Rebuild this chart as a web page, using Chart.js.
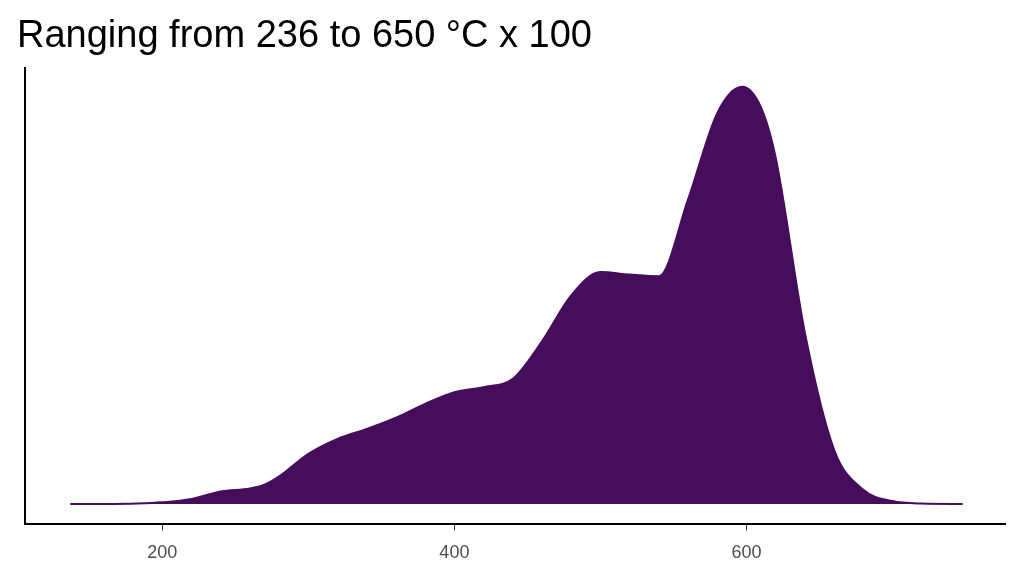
<!DOCTYPE html>
<html>
<head>
<meta charset="utf-8">
<script src="https://cdn.jsdelivr.net/npm/chart.js@4"></script>
<style>
  body { margin: 0; background: #fff; }
  #wrap { width: 1024px; height: 576px; }
</style>
</head>
<body>
<div id="wrap"><canvas id="myChart"></canvas></div>
<script>
// density curve (x in °C x 100, y relative density)
const temps   = [137, 160, 183, 200, 220, 240, 260, 270, 280, 300, 320, 340, 360, 380, 400, 420, 440, 460, 480, 500, 520, 540, 560, 580, 597, 610, 620, 640, 660, 680, 700, 720, 748];
const density = [0, 0, 0.001, 0.004, 0.012, 0.03, 0.037, 0.046, 0.066, 0.12, 0.156, 0.18, 0.207, 0.24, 0.268, 0.28, 0.30, 0.39, 0.50, 0.556, 0.55, 0.546, 0.73, 0.937, 1.0, 0.95, 0.83, 0.41, 0.13, 0.034, 0.007, 0.001, 0];
const x_ticks = [200, 400, 600];
const title_text = 'Ranging from 236 to 650 °C x 100';

var points = [];
for (var i = 0; i < temps.length; i++) {
  points.push({x: temps[i], y: density[i]});
}

var config = {
  type: 'line',
  data: {
    datasets: [{
      data: points,
      borderColor: 'rgb(69, 13, 92)',
      backgroundColor: 'rgb(69, 13, 92)',
      borderWidth: 2,
      fill: 'origin',
      cubicInterpolationMode: 'monotone',
      pointRadius: 0
    }]
  },
  options: {
    responsive: true,
    maintainAspectRatio: false,
    animation: false,
    layout: { padding: { left: 17, right: 19, top: 0, bottom: 0 } },
    plugins: {
      legend: { display: false },
      tooltip: { enabled: false },
      title: {
        display: true,
        text: title_text,
        align: 'start',
        color: '#000',
        font: { family: 'Liberation Sans, Arial', size: 38, weight: 'normal' },
        padding: { top: 14, bottom: 8 }
      }
    },
    scales: {
      x: {
        type: 'linear',
        min: 106,
        max: 777,
        afterBuildTicks: function (axis) {
          axis.ticks = x_ticks.map(function (v) { return {value: v}; });
        },
        ticks: {
          color: '#4d4d4d',
          font: { family: 'Liberation Sans, Arial', size: 18 },
          padding: 12
        },
        grid: { drawOnChartArea: false, tickLength: 6, color: '#333', lineWidth: 1 },
        border: { color: '#000', width: 2 }
      },
      y: {
        min: -0.049,
        max: 1.046,
        ticks: { display: false },
        grid: { display: false },
        border: { color: '#000', width: 2 }
      }
    }
  }
};

var myChart = new Chart(document.getElementById('myChart'), config);
</script>
</body>
</html>
